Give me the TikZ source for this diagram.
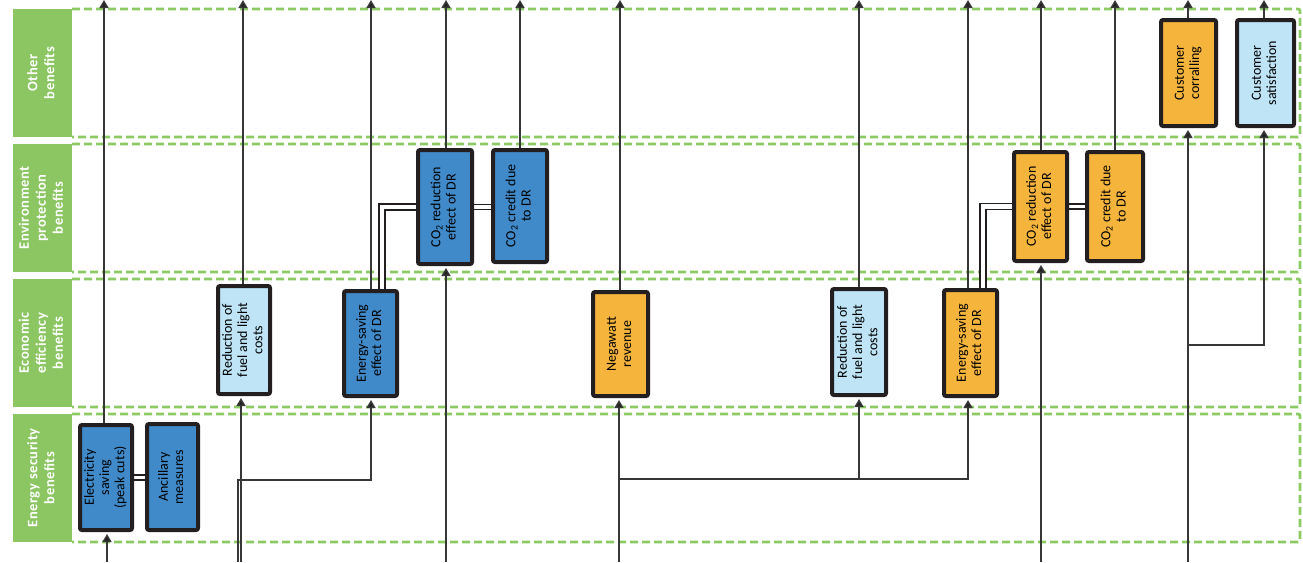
\documentclass[tikz,border=0pt]{standalone}
\usepackage{fontspec}
\setmainfont{Carlito}
\newfontfamily\labfont[LetterSpace=4]{Carlito}
\usepackage{graphicx}
\usetikzlibrary{arrows.meta}
\definecolor{labgreen}{RGB}{140,198,98}
\definecolor{dashgreen}{RGB}{140,202,100}
\definecolor{bblue}{RGB}{64,138,202}
\definecolor{lblue}{RGB}{190,228,246}
\definecolor{orng}{RGB}{245,180,60}
\definecolor{edgec}{RGB}{35,31,32}
\definecolor{wirec}{RGB}{55,55,55}
\newcommand\vtxt[1]{\rotatebox{90}{\begin{tabular}{@{}c@{}}#1\end{tabular}}}
\pgfdeclarelayer{bg}
\pgfsetlayers{bg,main}
\begin{document}
\begin{tikzpicture}[x=1pt,y=-1pt,
  lane/.style={draw=dashgreen,line width=2.8pt,dash pattern=on 8pt off 4pt,rounded corners=2pt},
  lab/.style={fill=labgreen,draw=none,text=white,font=\labfont\fontsize{14.5}{17}\selectfont\bfseries,inner sep=0pt,minimum width=59pt,minimum height=128pt},
  box/.style={draw=edgec,line width=4pt,rounded corners=2pt,inner sep=0pt,font=\fontsize{14}{15.3}\selectfont},
  wire/.style={draw=wirec,line width=1.5pt},
  arr/.style={wire,-{Triangle[width=9pt,length=8pt,fill=edgec]}},
  arrin/.style={arr,shorten >=2pt},
  dbl/.style={draw=edgec,double=white,double distance=3.5pt,line width=1.7pt}
]
\useasboundingbox (0,0) rectangle (1303,562);

% lane labels
\node[lab] (lOther) at (42.5,73) {\vtxt{Other\\benefits}};
\node[lab] (lEnv) at (42.5,208) {\vtxt{Environment\\protection\\benefits}};
\node[lab] (lEco) at (42.5,343) {\vtxt{Economic\\efficiency\\benefits}};
\node[lab] (lSec) at (42.5,478) {\vtxt{Energy security\\benefits}};

% boxes
\node[box,fill=bblue,minimum width=52pt,minimum height=105pt] (elec) at (106,477.5) {\vtxt{Electricity\\saving\\(peak cuts)}};
\node[box,fill=bblue,minimum width=51pt,minimum height=106pt] (anc) at (172.5,477) {\vtxt{Ancillary\\measures}};
\node[box,fill=lblue,minimum width=52pt,minimum height=108pt] (red1) at (244,340) {\vtxt{Reduction of\\fuel and light\\costs}};
\node[box,fill=bblue,minimum width=53pt,minimum height=105pt] (es1) at (370.5,343.5) {\vtxt{Energy-saving\\effect of DR}};
\node[box,fill=bblue,minimum width=54pt,minimum height=114pt] (co2r1) at (445,207) {\vtxt{CO\textsubscript{2} reduction\\effect of DR}};
\node[box,fill=bblue,minimum width=54pt,minimum height=112pt] (co2c1) at (520,206) {\vtxt{CO\textsubscript{2} credit due\\to DR}};
\node[box,fill=orng,minimum width=55pt,minimum height=104pt] (nega) at (620.5,344) {\vtxt{Negawatt\\revenue}};
\node[box,fill=lblue,minimum width=54pt,minimum height=106pt] (red2) at (859,342) {\vtxt{Reduction of\\fuel and light\\costs}};
\node[box,fill=orng,minimum width=53pt,minimum height=106pt] (es2) at (970.5,343) {\vtxt{Energy-saving\\effect of DR}};
\node[box,fill=orng,minimum width=53pt,minimum height=109pt] (co2r2) at (1040.5,206.5) {\vtxt{CO\textsubscript{2} reduction\\effect of DR}};
\node[box,fill=orng,minimum width=56pt,minimum height=109pt] (co2c2) at (1115,206.5) {\vtxt{CO\textsubscript{2} credit due\\to DR}};
\node[box,fill=orng,minimum width=55pt,minimum height=106pt] (corr) at (1188.5,73) {\vtxt{Customer\\corralling}};
\node[box,fill=lblue,minimum width=57pt,minimum height=106pt] (sat) at (1265.5,73) {\vtxt{Customer\\satisfaction}};

% free ends
\coordinate (tElec) at (104,0);
\coordinate (tRed1) at (243,0);
\coordinate (tEs1) at (371,0);
\coordinate (tCo2r1) at (446,0);
\coordinate (tCo2c1) at (520,0);
\coordinate (tNega) at (620,0);
\coordinate (tRed2) at (859,0);
\coordinate (tEs2) at (968,0);
\coordinate (tCo2r2) at (1041,0);
\coordinate (tCo2c2) at (1115,0);
\coordinate (tCorr) at (1188,0);
\coordinate (tSat) at (1264,0);
\coordinate (bElec) at (107,562);
\coordinate (bRed1) at (241,562);
\coordinate (bEs1) at (238,562);
\coordinate (bCo2r1) at (446,562);
\coordinate (bNega) at (619,562);
\coordinate (bCo2r2) at (1041,562);
\coordinate (bCorr) at (1188,562);
\coordinate (jEs1) at (238,480);
\coordinate (jNega) at (619,479);
\coordinate (jSat) at (1188,345);
\coordinate (dEs1) at (382,0);
\coordinate (dEs2) at (983,0);

\begin{pgfonlayer}{bg}
% lanes
\draw[lane] (72,9) -- (1300,9) -- (1300,137) -- (72,137);
\draw[lane] (72,144) -- (1300,144) -- (1300,272) -- (72,272);
\draw[lane] (72,279) -- (1300,279) -- (1300,407) -- (72,407);
\draw[lane] (72,414) -- (1300,414) -- (1300,542) -- (72,542);

% outgoing arrows to the top
\draw[arr] (elec.north -| tElec) -- (tElec);
\draw[arr] (red1.north -| tRed1) -- (tRed1);
\draw[arr] (es1.north -| tEs1) -- (tEs1);
\draw[arr] (co2r1.north -| tCo2r1) -- (tCo2r1);
\draw[arr] (co2c1.north -| tCo2c1) -- (tCo2c1);
\draw[arr] (nega.north -| tNega) -- (tNega);
\draw[arr] (red2.north -| tRed2) -- (tRed2);
\draw[arr] (es2.north -| tEs2) -- (tEs2);
\draw[arr] (co2r2.north -| tCo2r2) -- (tCo2r2);
\draw[arr] (co2c2.north -| tCo2c2) -- (tCo2c2);
\draw[arr] (corr.north -| tCorr) -- (tCorr);
\draw[arr] (sat.north -| tSat) -- (tSat);

% incoming arrows from the bottom
\draw[arrin] (bElec) -- (bElec |- elec.south);
\draw[arrin] (bRed1) -- (bRed1 |- red1.south);
\draw[arrin] (bEs1) -- (jEs1) -| (es1.south -| tEs1);
\draw[arrin] (bCo2r1) -- (bCo2r1 |- co2r1.south);
\draw[arrin] (bNega) -- (bNega |- nega.south);
\draw[arrin] (jNega) -| (red2.south -| tRed2);
\draw[arrin] (jNega) -| (es2.south -| tEs2);
\draw[arrin] (bCo2r2) -- (bCo2r2 |- co2r2.south);
\draw[arrin] (bCorr) -- (bCorr |- corr.south);
\draw[arrin] (jSat) -| (sat.south -| tSat);

% double links
\draw[dbl,double distance=3pt] (elec.east) -- (elec.east -| anc.west);
\draw[dbl,double distance=4.5pt] (es1.north -| dEs1) |- (co2r1.west);
\draw[dbl] (co2r1.east) -- (co2r1.east -| co2c1.west);
\draw[dbl,double distance=4.5pt] (es2.north -| dEs2) |- (co2r2.west);
\draw[dbl] (co2r2.east) -- (co2r2.east -| co2c2.west);
\end{pgfonlayer}
\end{tikzpicture}
\end{document}
